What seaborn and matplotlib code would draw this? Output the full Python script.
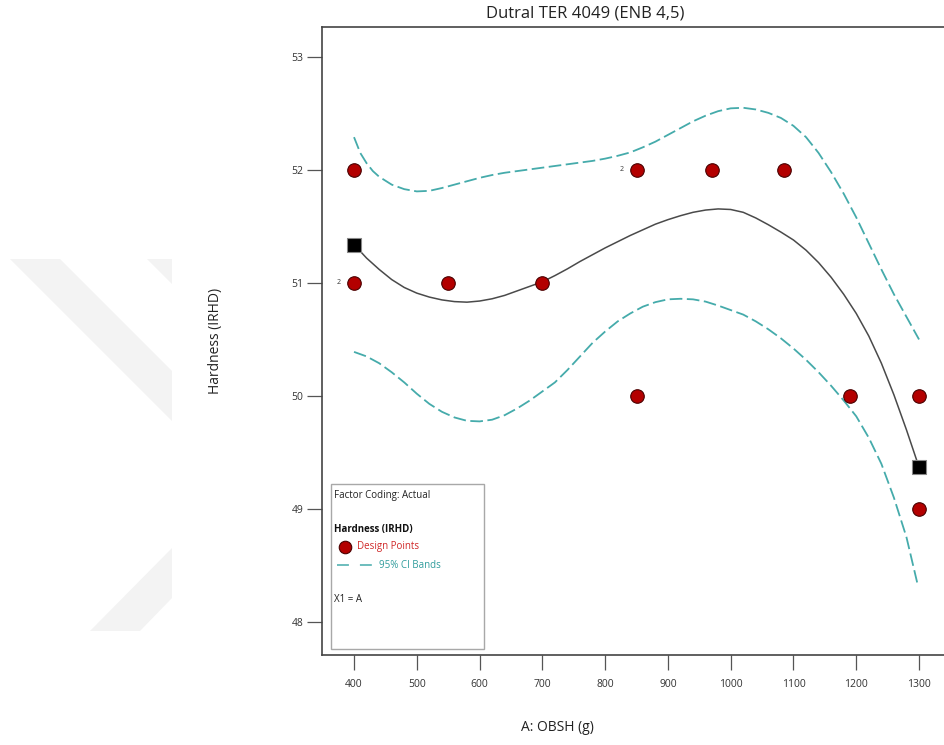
import matplotlib
matplotlib.use("Agg")
import matplotlib.pyplot as plt
from matplotlib.patches import Polygon, Rectangle
import seaborn as sns
import pandas as pd

# design points
dp_x = [400, 400, 550, 700, 850, 850, 970, 1085, 1190, 1300, 1300]
dp_y = [52, 51, 51, 51, 52, 50, 52, 52, 50, 50, 49]
rep_x = [400, 850]
rep_y = [51, 52]
rep_n = ["2", "2"]

# model prediction and 95% CI bands
fit_x = [400, 420, 440, 460, 480, 500, 520, 540, 560, 580, 600, 620, 640, 660, 680, 700, 720, 740,
         760, 780, 800, 820, 840, 860, 880, 900, 920, 940, 960, 980, 1000, 1020, 1040, 1060, 1080,
         1100, 1120, 1140, 1160, 1180, 1200, 1220, 1240, 1260, 1280, 1300]
fit_y = [51.34, 51.22, 51.12, 51.03, 50.96, 50.91, 50.875, 50.85, 50.835, 50.83, 50.84, 50.86,
         50.89, 50.93, 50.97, 51.01, 51.065, 51.125, 51.19, 51.25, 51.31, 51.365, 51.42, 51.47,
         51.52, 51.56, 51.595, 51.625, 51.645, 51.655, 51.65, 51.625, 51.575, 51.515, 51.45,
         51.38, 51.29, 51.18, 51.05, 50.90, 50.73, 50.53, 50.29, 50.01, 49.70, 49.37]

up_x = [400, 410, 420, 430, 440, 460, 480, 500, 520, 540, 560, 580, 600, 620, 640, 660, 680, 700,
        720, 740, 760, 780, 800, 820, 840, 860, 880, 900, 920, 940, 960, 980, 1000, 1020, 1040,
        1060, 1080, 1100, 1120, 1140, 1160, 1180, 1200, 1220, 1240, 1260, 1280, 1300]
up_y = [52.29, 52.15, 52.06, 51.99, 51.94, 51.87, 51.83, 51.81, 51.815, 51.84, 51.87, 51.90,
        51.93, 51.955, 51.975, 51.99, 52.005, 52.02, 52.035, 52.05, 52.065, 52.08, 52.10, 52.125,
        52.155, 52.20, 52.25, 52.31, 52.37, 52.43, 52.48, 52.52, 52.545, 52.55, 52.535, 52.505,
        52.46, 52.39, 52.29, 52.15, 51.98, 51.79, 51.58, 51.35, 51.12, 50.90, 50.70, 50.50]

lo_x = [400, 420, 440, 460, 480, 500, 520, 540, 560, 580, 600, 620, 640, 660, 680, 700, 720, 740,
        760, 780, 800, 820, 840, 860, 880, 900, 920, 940, 960, 980, 1000, 1020, 1040, 1060, 1080,
        1100, 1120, 1140, 1160, 1180, 1200, 1220, 1240, 1260, 1280, 1297]
lo_y = [50.39, 50.35, 50.29, 50.21, 50.12, 50.02, 49.93, 49.86, 49.81, 49.78, 49.775, 49.79,
        49.83, 49.89, 49.96, 50.04, 50.12, 50.23, 50.35, 50.47, 50.57, 50.66, 50.73, 50.79, 50.83,
        50.855, 50.86, 50.855, 50.835, 50.80, 50.76, 50.72, 50.66, 50.59, 50.51, 50.42, 50.32,
        50.21, 50.09, 49.96, 49.82, 49.63, 49.40, 49.10, 48.75, 48.35]

end_x = [400, 1300]
end_y = [51.34, 49.37]

x_ticks = [400, 500, 600, 700, 800, 900, 1000, 1100, 1200, 1300]
y_ticks = [48, 49, 50, 51, 52, 53]

sns.set_theme(style="white")
plt.rcParams["font.family"] = ["Open Sans", "DejaVu Sans"]

teal = "#45abab"
fig = plt.figure(figsize=(9.44, 7.45), dpi=100)

# faint watermark on the left
W, H = 944.0, 745.0
def fpoly(pts):
    return Polygon([(px / W, 1 - py / H) for px, py in pts], closed=True,
                   transform=fig.transFigure, facecolor="#f3f3f3", edgecolor="none", zorder=0)
fig.patches.append(fpoly([(10, 259), (60, 259), (172, 371), (172, 421)]))
fig.patches.append(fpoly([(147, 259), (172, 259), (172, 284)]))
fig.patches.append(fpoly([(90, 631), (140, 631), (172, 598), (172, 548)]))

ax = fig.add_axes([0.3411, 0.1208, 0.6657, 0.8430])
ax.set_facecolor("none")

sns.lineplot(x=fit_x, y=fit_y, ax=ax, color="#4a4a4a", linewidth=1.1)
sns.lineplot(x=up_x, y=up_y, ax=ax, color=teal, linewidth=1.3, linestyle=(0, (7, 2.5)))
sns.lineplot(x=lo_x, y=lo_y, ax=ax, color=teal, linewidth=1.3, linestyle=(0, (7, 2.5)))

pts = pd.DataFrame({"x": dp_x, "y": dp_y})
sns.scatterplot(data=pts, x="x", y="y", ax=ax, s=95, color="#b30000",
                edgecolor="#4a0000", linewidth=0.8, zorder=5)
sns.scatterplot(x=end_x, y=end_y, ax=ax, marker="s", s=95, color="black",
                edgecolor="#888888", linewidth=0.8, zorder=6)

for xv, yv, n in zip(rep_x, rep_y, rep_n):
    ax.annotate(n, (xv, yv), xytext=(-11, 0), textcoords="offset points",
                ha="center", va="center", fontsize=5, color="#333333")

ax.set_xlim(349, 1350)
ax.set_ylim(47.708, 53.265)
ax.set_xticks(x_ticks)
ax.set_yticks(y_ticks)
ax.tick_params(axis="both", direction="out", length=11, width=0.9, color="#555555",
               labelsize=7.5, labelcolor="#333333", bottom=True, left=True)
ax.tick_params(axis="x", pad=6)
ax.tick_params(axis="y", pad=2.5)
for sp in ax.spines.values():
    sp.set_color("#444444")
    sp.set_linewidth(1.2)

ax.set_xlabel("A: OBSH (g)", fontsize=10, color="#222222")
ax.xaxis.set_label_coords(0.375, -0.103)
ax.set_ylabel("Hardness (IRHD)", fontsize=10, color="#222222")
ax.yaxis.set_label_coords(-0.157, 0.5)
fig.text(585 / W, 1 - 13 / H, "Dutral TER 4049 (ENB 4,5)", ha="center", va="center",
         fontsize=12, color="#222222")

# legend box in lower left
ax.add_patch(Rectangle((0.0143, 0.0096), 0.2434, 0.2627, transform=ax.transAxes,
                       fill=False, edgecolor="#a8a8a8", linewidth=1.0, zorder=7))
tx = 0.019
ax.text(tx, 0.254, "Factor Coding: Actual", transform=ax.transAxes, fontsize=7,
        va="center", color="#222222")
ax.text(tx, 0.200, "Hardness (IRHD)", transform=ax.transAxes, fontsize=7,
        fontweight="bold", va="center", color="#111111")
ax.plot([0.0366], [0.172], transform=ax.transAxes, marker="o", markersize=9,
        color="#b30000", markeredgecolor="#4a0000", markeredgewidth=0.8, clip_on=False)
ax.text(0.0557, 0.172, "Design Points", transform=ax.transAxes, fontsize=7,
        va="center", color="#d02828")
ax.plot([0.0239, 0.0796], [0.143, 0.143], transform=ax.transAxes, color=teal,
        linewidth=1.1, linestyle=(0, (7.8, 7.2)))
ax.text(0.0907, 0.143, "95% CI Bands", transform=ax.transAxes, fontsize=7,
        va="center", color="#2f9c9c")
ax.text(tx, 0.088, "X1 = A", transform=ax.transAxes, fontsize=7,
        va="center", color="#222222")

fig.savefig("out.png", dpi=100)
